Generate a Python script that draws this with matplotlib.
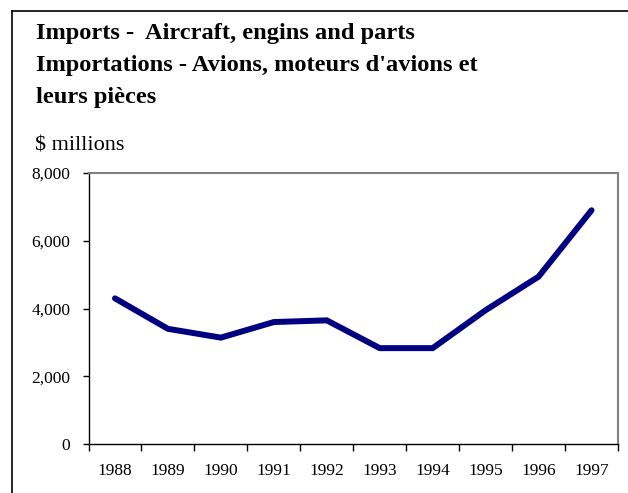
import numpy as np
import matplotlib.pyplot as plt
from matplotlib.lines import Line2D

# Données
years = ['1988', '1989', '1990', '1991', '1992', '1993', '1994', '1995', '1996', '1997']
imports = [4300, 3400, 3140, 3600, 3650, 2830, 2830, 3950, 4940, 6900]
y_ticks = [0, 2000, 4000, 6000, 8000]

title_lines = ["Imports -  Aircraft, engins and parts",
               "Importations - Avions, moteurs d'avions et",
               "leurs pièces"]

plt.rcParams['font.family'] = ['Liberation Serif', 'DejaVu Serif']

W, H = 628, 493
fig = plt.figure(figsize=(W / 100, H / 100), dpi=100)
ax = fig.add_axes([88.5 / W, 1 - 444 / H, (618 - 88.5) / W, (444 - 173) / H])

x = np.arange(len(years))
ax.plot(x, imports, color='#000080', linewidth=4.3, solid_capstyle='round',
        solid_joinstyle='miter')

ax.set_xlim(-0.5, len(years) - 0.5)
ax.set_ylim(0, 8000)
ax.set_yticks(y_ticks)
ax.set_yticklabels([f'{v:,}' for v in y_ticks], fontsize=12.5)
ax.set_xticks(np.arange(len(years) + 1) - 0.5)
ax.set_xticklabels([])
ax.set_xticks(x, minor=True)
ax.set_xticklabels(years, minor=True, fontsize=12.5)
ax.tick_params(axis='x', which='minor', length=0, pad=14)
ax.tick_params(axis='x', which='major', length=5, width=1, color='black')
ax.tick_params(axis='y', length=4, width=1, color='black', pad=9)

for side in ['left', 'bottom']:
    ax.spines[side].set_color('black')
    ax.spines[side].set_linewidth(1)
for side in ['top', 'right']:
    ax.spines[side].set_color('#808080')
    ax.spines[side].set_linewidth(1.5)

# Titre et unité
for i, line in enumerate(title_lines):
    fig.text(36 / W, 1 - (39.5 + i * 32) / H, line, fontsize=17.6,
             fontweight='bold', va='baseline', ha='left')
fig.text(35 / W, 1 - 150.5 / H, '$ millions', fontsize=16, va='baseline', ha='left')

# Cadre
fig.add_artist(Line2D([12 / W, 12 / W], [0, 1 - 10.5 / H], color='black', linewidth=1.2))
fig.add_artist(Line2D([12 / W, 1], [1 - 10.5 / H, 1 - 10.5 / H], color='black', linewidth=1.2))

fig.savefig('out.png', dpi=100)
